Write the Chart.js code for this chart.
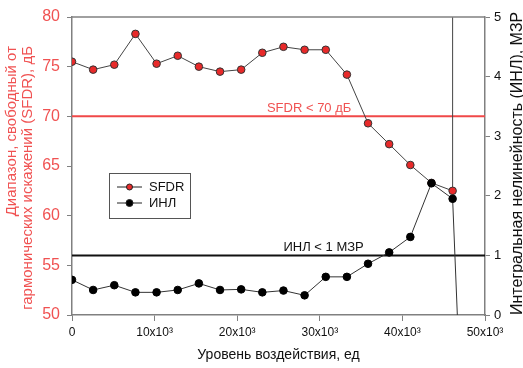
<!DOCTYPE html>
<html>
<head>
<meta charset="utf-8">
<script src="https://cdn.jsdelivr.net/npm/chart.js@4.4.0/dist/chart.umd.min.js"></script>
<style>
  html, body { margin: 0; padding: 0; background: #fff; }
  #wrap { width: 523px; height: 368px; }
</style>
</head>
<body>
<div id="wrap"><canvas id="chart" width="523" height="368"></canvas></div>
<script>
// Уровень воздействия (ось X)
const levels = [0, 2560, 5120, 7680, 10240, 12800, 15360, 17920, 20480, 23040,
                25600, 28160, 30720, 33280, 35840, 38400, 40960, 43520, 46080];
// SFDR, дБ
const sfdrValues = [75.5, 74.7, 75.2, 78.3, 75.3, 76.1, 75.0, 74.5, 74.7, 76.4,
                    77.0, 76.7, 76.7, 74.2, 69.3, 67.2, 65.1, 63.3, 62.5];
// ИНЛ, МЗР
const inlValues = [0.59, 0.42, 0.50, 0.38, 0.38, 0.42, 0.53, 0.42, 0.43, 0.38,
                   0.41, 0.33, 0.64, 0.64, 0.86, 1.05, 1.31, 2.21, 1.95];
// обрыв кривых после последней точки (уходят за пределы графика)
const sfdrTail = { x: 46080, y: 95 };
const inlTail = { x: 46650, y: 0 };

const sfdrLimit = 70;
const inlLimit = 1;

const xTicks = { min: 0, max: 50000, step: 10000 };
const leftTicks = { min: 50, max: 80, step: 5 };
const rightTicks = { min: 0, max: 5, step: 1 };

const FONT = '"Liberation Sans", Arial, sans-serif';
const RED = '#f05252';

function toPoints(xs, ys, tail) {
    const pts = xs.map((x, i) => ({ x: x, y: ys[i] }));
    if (tail) pts.push(tail);
    return pts;
}

const n = levels.length;

// Подписи осей, легенда и надписи у граничных линий
const extrasPlugin = {
    id: 'extras',
    afterDraw(chart) {
        const ctx = chart.ctx;
        const area = chart.chartArea;
        const xs = chart.scales.x;
        const yl = chart.scales.y;
        const yr = chart.scales.y2;
        ctx.save();

        // верхняя рамка
        ctx.strokeStyle = '#808080';
        ctx.lineWidth = 1.5;
        ctx.beginPath();
        ctx.moveTo(area.left, area.top);
        ctx.lineTo(area.right, area.top);
        ctx.stroke();

        // надписи
        ctx.font = '13px ' + FONT;
        ctx.textBaseline = 'middle';
        ctx.textAlign = 'left';
        ctx.fillStyle = RED;
        ctx.fillText('SFDR < 70 дБ', xs.getPixelForValue(23600), yl.getPixelForValue(sfdrLimit) - 8);
        ctx.fillStyle = '#111';
        ctx.fillText('ИНЛ < 1 МЗР', xs.getPixelForValue(25600), yr.getPixelForValue(inlLimit) - 8);

        // левая подпись
        ctx.save();
        ctx.rotate(-Math.PI / 2);
        ctx.font = '15px ' + FONT;
        ctx.fillStyle = RED;
        ctx.textAlign = 'right';
        ctx.fillText('Диапазон, свободный от', -46, 12);
        ctx.fillText('гармонических искажений (SFDR), дБ', -46, 28);
        ctx.restore();

        // правая подпись
        ctx.save();
        ctx.rotate(-Math.PI / 2);
        ctx.font = '16px ' + FONT;
        ctx.fillStyle = '#111';
        ctx.textAlign = 'left';
        ctx.fillText('Интегральная нелинейность (ИНЛ), МЗР', -315, 518);
        ctx.restore();

        // легенда
        ctx.strokeStyle = '#555';
        ctx.lineWidth = 1;
        ctx.strokeRect(109.5, 173.5, 81, 45);
        const items = [
            { label: 'SFDR', color: '#e82a2a', r: 3, y: 187 },
            { label: 'ИНЛ', color: '#000', r: 3.5, y: 203 }
        ];
        items.forEach(it => {
            ctx.strokeStyle = '#222';
            ctx.beginPath();
            ctx.moveTo(117, it.y);
            ctx.lineTo(142, it.y);
            ctx.stroke();
            ctx.beginPath();
            ctx.arc(129.5, it.y, it.r, 0, Math.PI * 2);
            ctx.fillStyle = it.color;
            ctx.fill();
            ctx.stroke();
            ctx.fillStyle = '#111';
            ctx.font = '13px ' + FONT;
            ctx.textAlign = 'left';
            ctx.fillText(it.label, 149, it.y);
        });
        ctx.restore();
    }
};

new Chart(document.getElementById('chart'), {
    type: 'line',
    data: {
        datasets: [
            {
                label: 'ИНЛ',
                data: toPoints(levels, inlValues, inlTail),
                yAxisID: 'y2',
                borderColor: '#333',
                borderWidth: 1,
                backgroundColor: '#000',
                pointBorderColor: '#000',
                pointRadius: ctx => ctx.dataIndex < n ? 3.8 : 0,
                pointBorderWidth: 1,
                tension: 0,
                order: 1
            },
            {
                label: 'SFDR',
                data: toPoints(levels, sfdrValues, sfdrTail),
                yAxisID: 'y',
                borderColor: '#444',
                borderWidth: 1,
                backgroundColor: '#e82a2a',
                pointBorderColor: '#333',
                pointRadius: ctx => ctx.dataIndex < n ? 3.8 : 0,
                pointBorderWidth: 1,
                tension: 0,
                order: 2
            },
            {
                label: 'SFDR < 70',
                data: [{ x: xTicks.min, y: sfdrLimit }, { x: xTicks.max, y: sfdrLimit }],
                yAxisID: 'y',
                borderColor: '#f04848',
                borderWidth: 2,
                pointRadius: 0,
                order: 3
            },
            {
                label: 'ИНЛ < 1',
                data: [{ x: xTicks.min, y: inlLimit }, { x: xTicks.max, y: inlLimit }],
                yAxisID: 'y2',
                borderColor: '#111',
                borderWidth: 2,
                pointRadius: 0,
                order: 4
            }
        ]
    },
    options: {
        responsive: false,
        devicePixelRatio: 1,
        animation: false,
        layout: { padding: { top: 17, right: 0, left: 0, bottom: 0 } },
        plugins: {
            legend: { display: false },
            tooltip: { enabled: false }
        },
        scales: {
            x: {
                type: 'linear',
                min: xTicks.min,
                max: xTicks.max,
                afterFit: s => { s.height = 53; },
                ticks: {
                    stepSize: xTicks.step,
                    color: '#111',
                    font: { family: FONT, size: 12 },
                    padding: 4,
                    maxRotation: 0,
                    callback: v => v === 0 ? '0' : (v / 1000) + 'x10³'
                },
                grid: { drawOnChartArea: false, color: '#808080', tickLength: 6 },
                border: { color: '#808080', width: 1.5 },
                title: {
                    display: true,
                    text: 'Уровень воздействия, ед',
                    color: '#111',
                    font: { family: FONT, size: 14 },
                    padding: { top: 0, bottom: 4 }
                }
            },
            y: {
                position: 'left',
                min: leftTicks.min,
                max: leftTicks.max,
                afterFit: s => { s.width = 72; },
                ticks: {
                    stepSize: leftTicks.step,
                    color: RED,
                    font: { family: FONT, size: 16 },
                    padding: 7
                },
                grid: { drawOnChartArea: false, color: '#808080', tickLength: 5 },
                border: { color: '#808080', width: 1.5 }
            },
            y2: {
                position: 'right',
                min: rightTicks.min,
                max: rightTicks.max,
                afterFit: s => { s.width = 38; },
                ticks: {
                    stepSize: rightTicks.step,
                    color: '#111',
                    font: { family: FONT, size: 13 },
                    padding: 4
                },
                grid: { drawOnChartArea: false, color: '#808080', tickLength: 5 },
                border: { color: '#808080', width: 1.5 }
            }
        }
    },
    plugins: [extrasPlugin]
});
</script>
</body>
</html>
